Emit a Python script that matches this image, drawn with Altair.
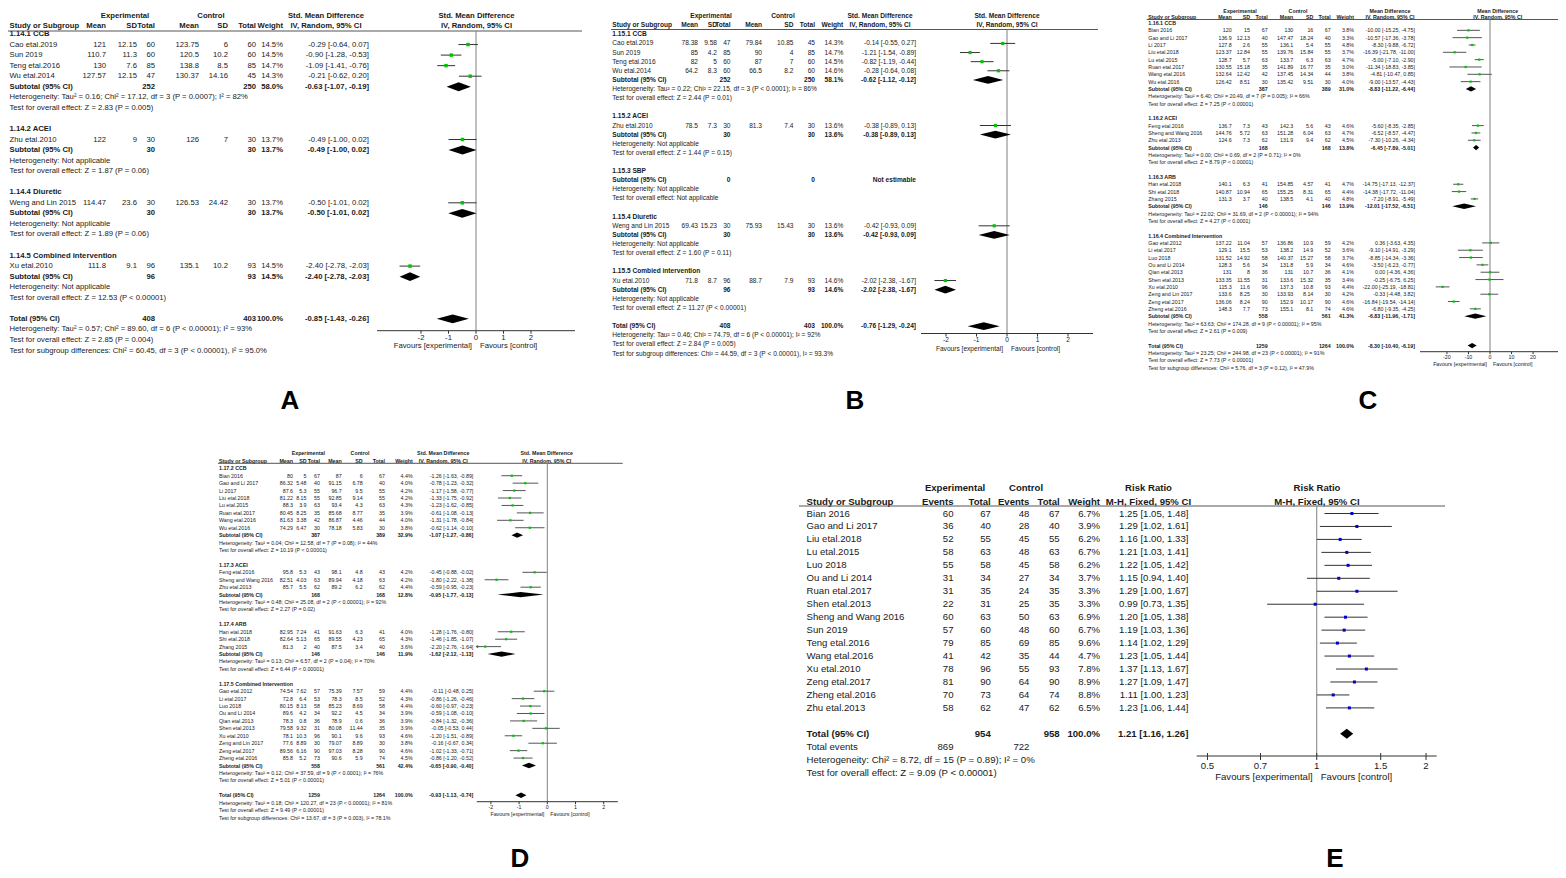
import altair as alt
import pandas as pd

FONT = "Liberation Sans"
OFF = 8
GREEN = "#00c400"
BLUE = "#0000cc"
TXT = "#1a1a1a"

# ---------------- Panel A (1.14) ----------------
A_heads = ["1.14.1 CCB", "1.14.2 ACEI", "1.14.4 Diuretic", "1.14.5 Combined intervention"]
A_grp = [0, 0, 0, 0, 1, 2, 3]
A_study = ["Cao etal.2019", "Sun 2019", "Teng etal.2016", "Wu etal.2014", "Zhu etal.2010",
           "Weng and Lin 2015", "Xu etal.2010"]
A_e_mean = [121, 110.7, 130, 127.57, 122, 114.47, 111.8]
A_e_sd = [12.15, 11.3, 7.6, 12.15, 9, 23.6, 9.1]
A_e_n = [60, 60, 85, 47, 30, 30, 96]
A_c_mean = [123.75, 120.5, 138.8, 130.37, 126, 126.53, 135.1]
A_c_sd = [6, 10.2, 8.5, 14.16, 7, 24.42, 10.2]
A_c_n = [60, 60, 85, 45, 30, 30, 93]
A_w = [14.5, 14.5, 14.7, 14.3, 13.7, 13.7, 14.5]
A_est = [-0.29, -0.90, -1.09, -0.21, -0.49, -0.50, -2.40]
A_lo = [-0.64, -1.28, -1.41, -0.62, -1.00, -1.01, -2.78]
A_hi = [0.07, -0.53, -0.76, 0.20, 0.02, 0.02, -2.03]
A_sub_en = [252, 30, 30, 96]
A_sub_cn = [250, 30, 30, 93]
A_sub_w = [58.0, 13.7, 13.7, 14.5]
A_sub_est = [-0.63, -0.49, -0.50, -2.40]
A_sub_lo = [-1.07, -1.00, -1.01, -2.78]
A_sub_hi = [-0.19, 0.02, 0.02, -2.03]
A_het = ["Heterogeneity: Tau² = 0.16; Chi² = 17.12, df = 3 (P = 0.0007); I² = 82%",
         "Heterogeneity: Not applicable", "Heterogeneity: Not applicable", "Heterogeneity: Not applicable"]
A_test = ["Z = 2.83 (P = 0.005)", "Z = 1.87 (P = 0.06)", "Z = 1.89 (P = 0.06)", "Z = 12.53 (P < 0.00001)"]
A_total = [408, 403, 100.0, -0.85, -1.43, -0.26]
A_foot = ["Heterogeneity: Tau² = 0.57; Chi² = 89.60, df = 6 (P < 0.00001); I² = 93%",
          "Test for overall effect: Z = 2.85 (P = 0.004)",
          "Test for subgroup differences: Chi² = 60.45, df = 3 (P < 0.00001), I² = 95.0%"]
A_ticks = [-2, -1, 0, 1, 2]
A_tick_labels = ["-2", "-1", "0", "1", "2"]

# ---------------- Panel B (1.15) ----------------
B_heads = ["1.15.1 CCB", "1.15.2 ACEI", "1.15.3 SBP", "1.15.4 Diuretic", "1.15.5 Combied intervention"]
B_grp = [0, 0, 0, 0, 1, 3, 4]
B_study = ["Cao etal.2019", "Sun 2019", "Teng etal.2016", "Wu etal.2014", "Zhu etal.2010",
           "Weng and Lin 2015", "Xu etal.2010"]
B_e_mean = [78.38, 85, 82, 64.2, 78.5, 69.43, 71.8]
B_e_sd = [9.58, 4.2, 5, 8.3, 7.3, 15.23, 8.7]
B_e_n = [47, 85, 60, 60, 30, 30, 96]
B_c_mean = [79.84, 90, 87, 66.5, 81.3, 75.93, 88.7]
B_c_sd = [10.85, 4, 7, 8.2, 7.4, 15.43, 7.9]
B_c_n = [45, 85, 60, 60, 30, 30, 93]
B_w = [14.3, 14.7, 14.5, 14.6, 13.6, 13.6, 14.6]
B_est = [-0.14, -1.21, -0.82, -0.28, -0.38, -0.42, -2.02]
B_lo = [-0.55, -1.54, -1.19, -0.64, -0.89, -0.93, -2.38]
B_hi = [0.27, -0.89, -0.44, 0.08, 0.13, 0.09, -1.67]
B_sub_en = [252, 30, 0, 30, 96]
B_sub_cn = [250, 30, 0, 30, 93]
B_sub_w = [58.1, 13.6, None, 13.6, 14.6]
B_sub_est = [-0.62, -0.38, None, -0.42, -2.02]
B_sub_lo = [-1.12, -0.89, None, -0.93, -2.38]
B_sub_hi = [-0.12, 0.13, None, 0.09, -1.67]
B_het = ["Heterogeneity: Tau² = 0.22; Chi² = 22.15, df = 3 (P < 0.0001); I² = 86%",
         "Heterogeneity: Not applicable", "Heterogeneity: Not applicable",
         "Heterogeneity: Not applicable", "Heterogeneity: Not applicable"]
B_test = ["Z = 2.44 (P = 0.01)", "Z = 1.44 (P = 0.15)", "Not applicable", "Z = 1.60 (P = 0.11)",
          "Z = 11.27 (P < 0.00001)"]
B_total = [408, 403, 100.0, -0.76, -1.29, -0.24]
B_foot = ["Heterogeneity: Tau² = 0.46; Chi² = 74.79, df = 6 (P < 0.00001); I² = 92%",
          "Test for overall effect: Z = 2.84 (P = 0.005)",
          "Test for subgroup differences: Chi² = 44.59, df = 3 (P < 0.00001), I² = 93.3%"]
B_ticks = [-2, -1, 0, 1, 2]
B_tick_labels = ["-2", "-1", "0", "1", "2"]

# ---------------- Panel C (1.16) ----------------
C_heads = ["1.16.1 CCB", "1.16.2 ACEI", "1.16.3 ARB", "1.16.4 Combined Intervention"]
C_grp = [0] * 8 + [1] * 3 + [2] * 3 + [3] * 10
C_study = ["Bian 2016", "Gao and Li 2017", "Li 2017", "Liu etal.2018", "Lu etal.2015", "Ruan etal.2017",
           "Wang etal.2016", "Wu etal.2016", "Feng etal.2016", "Sheng and Wang 2016", "Zhu etal.2013",
           "Han etal.2018", "Shi etal.2018", "Zhang 2015", "Gao etal.2012", "Li etal.2017", "Luo 2018",
           "Ou and Li 2014", "Qian etal.2013", "Shen etal.2013", "Xu etal.2010", "Zeng and Lin 2017",
           "Zeng etal.2017", "Zheng etal.2016"]
C_e_mean = [120, 136.9, 127.8, 123.37, 128.7, 130.55, 132.64, 126.42, 136.7, 144.76, 124.6,
            140.1, 140.87, 131.3, 137.22, 129.1, 131.52, 128.3, 131, 133.35, 115.3, 133.6, 136.06, 148.3]
C_e_sd = [15, 12.13, 2.6, 12.84, 5.7, 15.18, 12.42, 8.51, 7.3, 5.72, 7.3,
          6.3, 10.94, 3.7, 11.04, 15.5, 14.92, 5.6, 8, 11.55, 11.6, 8.25, 8.24, 7.7]
C_e_n = [67, 40, 55, 55, 63, 35, 42, 30, 43, 63, 62, 41, 65, 40, 57, 53, 58, 34, 36, 31, 96, 30, 90, 73]
C_c_mean = [130, 147.47, 136.1, 139.76, 133.7, 141.89, 137.45, 135.42, 142.3, 151.28, 131.9,
            154.85, 155.25, 138.5, 136.86, 138.2, 140.37, 131.8, 131, 133.6, 137.3, 133.93, 152.9, 155.1]
C_c_sd = [16, 18.24, 5.4, 15.84, 6.3, 16.77, 14.34, 9.51, 5.6, 6.04, 9.4,
          4.57, 8.31, 4.1, 10.9, 14.9, 15.27, 5.9, 10.7, 15.32, 10.8, 8.14, 10.17, 8.1]
C_c_n = [67, 40, 55, 55, 63, 35, 44, 30, 43, 63, 62, 41, 65, 40, 59, 52, 58, 34, 36, 35, 93, 30, 90, 74]
C_w = [3.8, 3.3, 4.8, 3.7, 4.7, 3.0, 3.8, 4.0, 4.6, 4.7, 4.5, 4.7, 4.4, 4.8,
       4.2, 3.6, 3.7, 4.6, 4.1, 3.4, 4.4, 4.2, 4.6, 4.6]
C_est = [-10.00, -10.57, -8.30, -16.39, -5.00, -11.34, -4.81, -9.00, -5.60, -6.52, -7.30,
         -14.75, -14.38, -7.20, 0.36, -9.10, -8.85, -3.50, 0.00, -0.25, -22.00, -0.33, -16.84, -6.80]
C_lo = [-15.25, -17.36, -9.88, -21.78, -7.10, -18.83, -10.47, -13.57, -8.35, -8.57, -10.26,
        -17.13, -17.72, -8.91, -3.63, -14.91, -14.34, -6.23, -4.36, -6.75, -25.19, -4.48, -19.54, -9.35]
C_hi = [-4.75, -3.78, -6.72, -11.00, -2.90, -3.85, 0.85, -4.43, -2.85, -4.47, -4.34,
        -12.37, -11.04, -5.49, 4.35, -3.29, -3.36, -0.77, 4.36, 6.25, -18.81, 3.82, -14.14, -4.25]
C_sub_en = [387, 168, 146, 558]
C_sub_cn = [389, 168, 146, 561]
C_sub_w = [31.0, 13.8, 13.9, 41.3]
C_sub_est = [-8.83, -6.45, -12.01, -6.83]
C_sub_lo = [-11.22, -7.89, -17.52, -11.96]
C_sub_hi = [-6.44, -5.01, -6.51, -1.71]
C_het = ["Heterogeneity: Tau² = 6.40; Chi² = 20.49, df = 7 (P = 0.005); I² = 66%",
         "Heterogeneity: Tau² = 0.00; Chi² = 0.69, df = 2 (P = 0.71); I² = 0%",
         "Heterogeneity: Tau² = 22.02; Chi² = 31.69, df = 2 (P < 0.00001); I² = 94%",
         "Heterogeneity: Tau² = 63.63; Chi² = 174.28, df = 9 (P < 0.00001); I² = 95%"]
C_test = ["Z = 7.25 (P < 0.00001)", "Z = 8.79 (P < 0.00001)", "Z = 4.27 (P < 0.0001)", "Z = 2.61 (P = 0.009)"]
C_total = [1259, 1264, 100.0, -8.30, -10.40, -6.19]
C_foot = ["Heterogeneity: Tau² = 23.25; Chi² = 244.98, df = 23 (P < 0.00001); I² = 91%",
          "Test for overall effect: Z = 7.73 (P < 0.00001)",
          "Test for subgroup differences: Chi² = 5.76, df = 3 (P = 0.12), I² = 47.9%"]
C_ticks = [-20, -10, 0, 10, 20]
C_tick_labels = ["-20", "-10", "0", "10", "20"]

# ---------------- Panel D (1.17) ----------------
D_heads = ["1.17.2 CCB", "1.17.3 ACEI", "1.17.4 ARB", "1.17.5 Combined Intervention"]
D_grp = [0] * 8 + [1] * 3 + [2] * 3 + [3] * 10
D_study = list(C_study)
D_e_mean = [80, 86.32, 87.6, 81.22, 88.3, 80.45, 81.63, 74.29, 95.8, 82.51, 85.7,
            82.95, 82.64, 81.3, 74.54, 72.8, 80.15, 89.6, 78.3, 79.58, 78.1, 77.6, 89.56, 85.8]
D_e_sd = [5, 5.48, 5.3, 8.15, 3.9, 8.25, 3.38, 6.47, 5.3, 4.03, 5.5,
          7.24, 5.13, 2, 7.62, 6.4, 8.13, 4.2, 0.8, 9.32, 10.3, 8.89, 6.16, 5.2]
D_e_n = [67, 40, 55, 55, 63, 35, 42, 30, 43, 63, 62, 41, 65, 40, 57, 53, 58, 34, 36, 31, 96, 30, 90, 73]
D_c_mean = [87, 91.15, 96.7, 92.85, 93.4, 85.68, 86.87, 78.18, 98.1, 89.94, 89.2,
            91.63, 89.55, 87.5, 75.39, 78.3, 85.23, 92.2, 78.9, 80.08, 90.1, 79.07, 97.03, 90.6]
D_c_sd = [6, 6.78, 9.5, 9.14, 4.3, 8.77, 4.46, 5.83, 4.8, 4.18, 6.2,
          6.3, 4.23, 3.4, 7.57, 8.5, 8.69, 4.5, 0.6, 11.44, 9.6, 8.89, 8.28, 5.9]
D_c_n = [67, 40, 55, 55, 63, 35, 44, 30, 43, 63, 62, 41, 65, 40, 59, 52, 58, 34, 36, 35, 93, 30, 90, 74]
D_w = [4.4, 4.0, 4.2, 4.2, 4.3, 3.9, 4.0, 3.8, 4.2, 4.2, 4.4, 4.0, 4.3, 3.6,
       4.4, 4.3, 4.4, 3.9, 3.9, 3.9, 4.6, 3.8, 4.6, 4.5]
D_est = [-1.26, -0.78, -1.17, -1.33, -1.23, -0.61, -1.31, -0.62, -0.45, -1.80, -0.59,
         -1.28, -1.46, -2.20, -0.11, -0.86, -0.60, -0.59, -0.84, -0.05, -1.20, -0.16, -1.02, -0.86]
D_lo = [-1.63, -1.23, -1.58, -1.75, -1.62, -1.08, -1.78, -1.14, -0.88, -2.22, -0.95,
        -1.76, -1.85, -2.76, -0.48, -1.26, -0.97, -1.08, -1.32, -0.53, -1.51, -0.67, -1.33, -1.20]
D_hi = [-0.89, -0.32, -0.77, -0.92, -0.85, -0.13, -0.84, -0.10, -0.02, -1.38, -0.23,
        -0.80, -1.07, -1.64, 0.25, -0.46, -0.23, -0.10, -0.36, 0.44, -0.89, 0.34, -0.71, -0.52]
D_sub_en = [387, 168, 146, 558]
D_sub_cn = [389, 168, 146, 561]
D_sub_w = [32.9, 12.8, 11.9, 42.4]
D_sub_est = [-1.07, -0.95, -1.62, -0.65]
D_sub_lo = [-1.27, -1.77, -2.12, -0.90]
D_sub_hi = [-0.86, -0.13, -1.13, -0.40]
D_het = ["Heterogeneity: Tau² = 0.04; Chi² = 12.58, df = 7 (P = 0.08); I² = 44%",
         "Heterogeneity: Tau² = 0.48; Chi² = 25.08, df = 2 (P < 0.00001); I² = 92%",
         "Heterogeneity: Tau² = 0.13; Chi² = 6.57, df = 2 (P = 0.04); I² = 70%",
         "Heterogeneity: Tau² = 0.12; Chi² = 37.59, df = 9 (P < 0.0001); I² = 76%"]
D_test = ["Z = 10.19 (P < 0.00001)", "Z = 2.27 (P = 0.02)", "Z = 6.44 (P < 0.00001)", "Z = 5.01 (P < 0.00001)"]
D_total = [1259, 1264, 100.0, -0.93, -1.13, -0.74]
D_foot = ["Heterogeneity: Tau² = 0.18; Chi² = 120.27, df = 23 (P < 0.00001); I² = 81%",
          "Test for overall effect: Z = 9.49 (P < 0.00001)",
          "Test for subgroup differences: Chi² = 13.67, df = 3 (P = 0.003), I² = 78.1%"]
D_ticks = [-2, -1, 0, 1, 2]
D_tick_labels = ["-2", "-1", "0", "1", "2"]

# ---------------- Panel E (risk ratio) ----------------
E_study = ["Bian 2016", "Gao and Li 2017", "Liu etal.2018", "Lu etal.2015", "Luo 2018", "Ou and Li 2014",
           "Ruan etal.2017", "Shen etal.2013", "Sheng and Wang 2016", "Sun 2019", "Teng etal.2016",
           "Wang etal.2016", "Xu etal.2010", "Zeng etal.2017", "Zheng etal.2016", "Zhu etal.2013"]
E_e_ev = [60, 36, 52, 58, 55, 31, 31, 22, 60, 57, 79, 41, 78, 81, 70, 58]
E_e_n = [67, 40, 55, 63, 58, 34, 35, 31, 63, 60, 85, 42, 96, 90, 73, 62]
E_c_ev = [48, 28, 45, 48, 45, 27, 24, 25, 50, 48, 69, 35, 55, 64, 64, 47]
E_c_n = [67, 40, 55, 63, 58, 34, 35, 35, 63, 60, 85, 44, 93, 90, 74, 62]
E_w = [6.7, 3.9, 6.2, 6.7, 6.2, 3.7, 3.3, 3.3, 6.9, 6.7, 9.6, 4.7, 7.8, 8.9, 8.8, 6.5]
E_est = [1.25, 1.29, 1.16, 1.21, 1.22, 1.15, 1.29, 0.99, 1.20, 1.19, 1.14, 1.23, 1.37, 1.27, 1.11, 1.23]
E_lo = [1.05, 1.02, 1.00, 1.03, 1.05, 0.94, 1.00, 0.73, 1.05, 1.03, 1.02, 1.05, 1.13, 1.09, 1.00, 1.06]
E_hi = [1.48, 1.61, 1.33, 1.41, 1.42, 1.40, 1.67, 1.35, 1.38, 1.36, 1.29, 1.44, 1.67, 1.47, 1.23, 1.44]
E_total = [954, 958, 100.0, 1.21, 1.16, 1.26]
E_events = [869, 722]
E_foot = ["Heterogeneity: Chi² = 8.72, df = 15 (P = 0.89); I² = 0%",
          "Test for overall effect: Z = 9.09 (P < 0.00001)"]
E_ticks = [0.5, 0.7, 1, 1.5, 2]
E_tick_labels = ["0.5", "0.7", "1", "1.5", "2"]

PANEL_LETTERS = ["A", "B", "C", "D", "E"]


# ---------------- helpers ----------------
def X(px):
    return px - OFF


def Y(py):
    return py - OFF


def fmt(v):
    return "{:g}".format(v)


def ci(e, lo, hi):
    return f"{e:.2f} [{lo:.2f}, {hi:.2f}]"


def subgroup_rows(heads, grp, study, em, esd, en, cm, csd, cn, w, est, lo, hi,
                  sen, scn, sw, sest, slo, shi, het, test, total, foot):
    rows = []
    r = 0
    for g, h in enumerate(heads):
        rows.append(dict(r=r, kind="head", cells={"study": h}))
        r += 1
        for i in range(len(study)):
            if grp[i] != g:
                continue
            rows.append(dict(r=r, kind="study",
                             cells={"study": study[i], "eMean": fmt(em[i]), "eSD": fmt(esd[i]),
                                    "eTot": fmt(en[i]), "cMean": fmt(cm[i]), "cSD": fmt(csd[i]),
                                    "cTot": fmt(cn[i]), "wt": f"{w[i]:.1f}%", "ci": ci(est[i], lo[i], hi[i])},
                             est=est[i], lo=lo[i], hi=hi[i]))
            r += 1
        cells = {"study": "Subtotal (95% CI)", "eTot": fmt(sen[g]), "cTot": fmt(scn[g])}
        if sest[g] is None:
            cells["ci"] = "Not estimable"
            rows.append(dict(r=r, kind="sub", cells=cells))
        else:
            cells["wt"] = f"{sw[g]:.1f}%"
            cells["ci"] = ci(sest[g], slo[g], shi[g])
            rows.append(dict(r=r, kind="sub", cells=cells, est=sest[g], lo=slo[g], hi=shi[g]))
        r += 1
        rows.append(dict(r=r, kind="note", cells={"study": het[g]}))
        r += 1
        rows.append(dict(r=r, kind="note", cells={"study": "Test for overall effect: " + test[g]}))
        r += 2
    rows.append(dict(r=r, kind="total",
                     cells={"study": "Total (95% CI)", "eTot": fmt(total[0]), "cTot": fmt(total[1]),
                            "wt": f"{total[2]:.1f}%", "ci": ci(*total[3:])},
                     est=total[3], lo=total[4], hi=total[5]))
    r += 1
    for f in foot:
        rows.append(dict(r=r, kind="note", cells={"study": f}))
        r += 1
    return rows


def panel_layers(rows, L, hdr1, hdr2, ticks, tick_labels):
    keys = sorted(L["cols"], key=lambda k: L["cols"][k][0])
    idx = {k: i for i, k in enumerate(keys)}
    cs = alt.Scale(domain=list(range(len(keys))), range=[X(L["cols"][k][0]) for k in keys],
                   nice=False, zero=False)
    ys = alt.Scale(domain=[0, 1], range=[Y(L["row0"]), Y(L["row0"] + L["pitch"])], nice=False, zero=False)
    if L["ftype"] == "log":
        fsc = alt.Scale(type="log", domain=list(L["fdom"]),
                        range=[X(L["frange"][0]), X(L["frange"][1])], nice=False)
    else:
        fsc = alt.Scale(domain=list(L["fdom"]), range=[X(L["frange"][0]), X(L["frange"][1])],
                        nice=False, zero=False)

    def prow(py):
        return (py - L["row0"]) / L["pitch"]

    fs = L["fs"]
    recs = []

    def add(r, key, t, bold):
        recs.append(dict(r=r, c=idx[key], t=t, al=L["cols"][key][1], b=bold))

    for k, t in hdr1.items():
        add(prow(L["h1"]), k, t, True)
    for k, t in hdr2.items():
        add(prow(L["h2"]), k, t, True)
    for row in rows:
        bold = row["kind"] in ("head", "sub", "total")
        for k, t in row["cells"].items():
            add(row["r"], k, t, bold)
    df = pd.DataFrame(recs)
    layers = []
    for al in ("left", "center", "right"):
        for b in (False, True):
            sub = df[(df["al"] == al) & (df["b"] == b)]
            if len(sub) == 0:
                continue
            layers.append(
                alt.Chart(sub).mark_text(align=al, baseline="middle", font=FONT, fontSize=fs,
                                         fontWeight="bold" if b else "normal", color=TXT)
                .encode(x=alt.X("c:Q", scale=cs, axis=None), y=alt.Y("r:Q", scale=ys, axis=None), text="t:N"))

    # header underline
    hl = pd.DataFrame({"r": [prow(L["hline"])]})
    layers.append(alt.Chart(hl).mark_rule(color="#555", strokeWidth=1)
                  .encode(x=alt.value(X(L["hline_x"][0])), x2=alt.value(X(L["hline_x"][1])),
                          y=alt.Y("r:Q", scale=ys, axis=None)))

    d0, d1 = L["fdom"]
    # null line
    nl = pd.DataFrame({"x": [L["null"]], "r": [prow(L["hline"])], "r2": [prow(L["axis_y"])]})
    layers.append(alt.Chart(nl).mark_rule(color="#808080", strokeWidth=1)
                  .encode(x=alt.X("x:Q", scale=fsc, axis=None), y=alt.Y("r:Q", scale=ys, axis=None), y2="r2:Q"))

    # study CIs and squares
    st = pd.DataFrame([dict(r=row["r"], est=row["est"], lo=max(row["lo"], d0), hi=min(row["hi"], d1),
                            clipped=bool(row["lo"] < d0))
                       for row in rows if row["kind"] == "study"])
    layers.append(alt.Chart(st).mark_rule(color=L["cicol"], strokeWidth=1)
                  .encode(x=alt.X("lo:Q", scale=fsc, axis=None), x2="hi:Q",
                          y=alt.Y("r:Q", scale=ys, axis=None)))
    layers.append(alt.Chart(st).mark_square(size=L["sq"], color=L["sqcol"], opacity=1)
                  .encode(x=alt.X("est:Q", scale=fsc, axis=None), y=alt.Y("r:Q", scale=ys, axis=None)))
    ar = st[st["clipped"].astype(bool)]
    if len(ar):
        layers.append(alt.Chart(ar).mark_point(shape="triangle-left", filled=True, size=10,
                                               color=L["cicol"], opacity=1)
                      .encode(x=alt.X("lo:Q", scale=fsc, axis=None), y=alt.Y("r:Q", scale=ys, axis=None)))

    # diamonds
    dia = []
    h = L["dh"]
    j = 0
    for row in rows:
        if row["kind"] in ("sub", "total") and "est" in row:
            dia += [dict(id=j, x=row["lo"], y=row["r"], y2=row["r"]),
                    dict(id=j, x=row["est"], y=row["r"] - h, y2=row["r"] + h),
                    dict(id=j, x=row["hi"], y=row["r"], y2=row["r"])]
            j += 1
    dd = pd.DataFrame(dia)
    layers.append(alt.Chart(dd).mark_area(color="black", opacity=1, interpolate="linear")
                  .encode(x=alt.X("x:Q", scale=fsc, axis=None), y=alt.Y("y:Q", scale=ys, axis=None),
                          y2="y2:Q", detail="id:N"))

    # axis
    ay = prow(L["axis_y"])
    ax = pd.DataFrame({"x": [d0], "x2": [d1], "r": [ay]})
    layers.append(alt.Chart(ax).mark_rule(color="#333", strokeWidth=1)
                  .encode(x=alt.X("x:Q", scale=fsc, axis=None), x2="x2:Q", y=alt.Y("r:Q", scale=ys, axis=None)))
    tk = pd.DataFrame({"x": ticks, "r": [ay - L["tickup"] / L["pitch"]] * len(ticks),
                       "r2": [ay + L["tick"] / L["pitch"]] * len(ticks),
                       "lab": tick_labels, "rl": [prow(L["ticklab_y"])] * len(ticks)})
    layers.append(alt.Chart(tk).mark_rule(color="#333", strokeWidth=1)
                  .encode(x=alt.X("x:Q", scale=fsc, axis=None), y=alt.Y("r:Q", scale=ys, axis=None), y2="r2:Q"))
    layers.append(alt.Chart(tk).mark_text(baseline="middle", align="center", font=FONT, fontSize=fs, color=TXT)
                  .encode(x=alt.X("x:Q", scale=fsc, axis=None), y=alt.Y("rl:Q", scale=ys, axis=None), text="lab:N"))
    fv = pd.DataFrame({"x": [L["null"]], "r": [prow(L["fav_y"])],
                       "a": ["Favours [experimental]"], "b": ["Favours [control]"]})
    layers.append(alt.Chart(fv).mark_text(baseline="middle", align="right", font=FONT, fontSize=fs,
                                          color=TXT, dx=-L["favgap"])
                  .encode(x=alt.X("x:Q", scale=fsc, axis=None), y=alt.Y("r:Q", scale=ys, axis=None), text="a:N"))
    layers.append(alt.Chart(fv).mark_text(baseline="middle", align="left", font=FONT, fontSize=fs,
                                          color=TXT, dx=L["favgap"])
                  .encode(x=alt.X("x:Q", scale=fsc, axis=None), y=alt.Y("r:Q", scale=ys, axis=None), text="b:N"))
    return layers


def smd_headers(title, method):
    h1 = {"expC": "Experimental", "ctlC": "Control", "ciC": title, "fC": title}
    h2 = {"study": "Study or Subgroup", "eMean": "Mean", "eSD": "SD", "eTot": "Total",
          "cMean": "Mean", "cSD": "SD", "cTot": "Total", "wt": "Weight", "ciC": method, "fC": method}
    return h1, h2


# ---------------- layouts (pixel positions in the page) ----------------
LA = dict(row0=34, pitch=10.55, fs=7.7, h1=15.5, h2=25.5, hline=31, hline_x=(8, 582),
          cols={"study": (9.5, "left"), "eMean": (106, "right"), "expC": (125, "center"),
                "eSD": (137, "right"), "eTot": (155, "right"), "cMean": (199, "right"),
                "ctlC": (211, "center"), "cSD": (228, "right"), "cTot": (256, "right"),
                "wt": (283, "right"), "ciC": (326, "center"), "ci": (369, "right"), "fC": (476.5, "center")},
          ftype="linear", fdom=(-3.6, 3.6), frange=(377, 575), null=0, axis_y=330.7, tick=3, tickup=0,
          ticklab_y=337.5, fav_y=346, favgap=4, sq=12, sqcol=GREEN, cicol="#333", dh=0.42)
LB = dict(row0=34.3, pitch=9.12, fs=6.6, h1=16, h2=25, hline=29.5, hline_x=(611, 1098),
          cols={"study": (612.3, "left"), "eMean": (698, "right"), "expC": (711, "center"),
                "eSD": (717, "right"), "eTot": (730.5, "right"), "cMean": (762, "right"),
                "ctlC": (783, "center"), "cSD": (793.5, "right"), "cTot": (815, "right"),
                "wt": (843.3, "right"), "ciC": (880, "center"), "ci": (916, "right"), "fC": (1007, "center")},
          ftype="linear", fdom=(-2.82, 2.82), frange=(921, 1093), null=0, axis_y=333.5, tick=3, tickup=0,
          ticklab_y=340, fav_y=349, favgap=4, sq=10, sqcol=GREEN, cicol="#333", dh=0.42)
LC = dict(row0=23, pitch=7.33, fs=5.3, h1=11, h2=17, hline=19.5, hline_x=(1146.7, 1565),
          cols={"study": (1148.3, "left"), "eMean": (1231.7, "right"), "expC": (1240, "center"),
                "eSD": (1250, "right"), "eTot": (1267.7, "right"), "cMean": (1293.3, "right"),
                "ctlC": (1298, "center"), "cSD": (1313.3, "right"), "cTot": (1330.7, "right"),
                "wt": (1354, "right"), "ciC": (1390, "center"), "ci": (1415, "right"), "fC": (1497.7, "center")},
          ftype="linear", fdom=(-32.5, 32.5), frange=(1420, 1560), null=0, axis_y=351.7, tick=2.5, tickup=0,
          ticklab_y=357, fav_y=363.5, favgap=3, sq=5, sqcol=GREEN, cicol="#555", dh=0.36)
LD = dict(row0=468.3, pitch=7.43, fs=5.3, h1=453.3, h2=460.7, hline=463.3, hline_x=(218, 622.7),
          cols={"study": (219, "left"), "eMean": (293, "right"), "eSD": (306.5, "right"),
                "expC": (308.3, "center"), "eTot": (320, "right"), "cMean": (341.7, "right"),
                "ctlC": (360, "center"), "cSD": (362.7, "right"), "cTot": (385, "right"),
                "wt": (412.7, "right"), "ciC": (443.3, "center"), "ci": (473.3, "right"), "fC": (546.7, "center")},
          ftype="linear", fdom=(-2.5, 2.5), frange=(476.8, 617.8), null=0, axis_y=801.7, tick=2.5, tickup=0,
          ticklab_y=807, fav_y=814, favgap=3, sq=5, sqcol=GREEN, cicol="#555", dh=0.36)
LE = dict(row0=513.5, pitch=12.96, fs=9.6, h1=488.3, h2=501.7, hline=506, hline_x=(799, 1445),
          cols={"study": (806.6, "left"), "eEv": (953.5, "right"), "expC": (955, "center"),
                "eTot": (990.8, "right"), "ctlC": (1026, "center"), "cEv": (1029.4, "right"),
                "cTot": (1059.7, "right"), "wt": (1100, "right"), "ciC": (1148.5, "center"),
                "ci": (1188.4, "right"), "fC": (1317, "center")},
          ftype="log", fdom=(0.467, 2.14), frange=(1196.7, 1436.7), null=1, axis_y=756, tick=4, tickup=3,
          ticklab_y=765.5, fav_y=777, favgap=4, sq=9, sqcol=BLUE, cicol="#333", dh=0.39)

# ---------------- build ----------------
layers = []

rowsA = subgroup_rows(A_heads, A_grp, A_study, A_e_mean, A_e_sd, A_e_n, A_c_mean, A_c_sd, A_c_n, A_w,
                      A_est, A_lo, A_hi, A_sub_en, A_sub_cn, A_sub_w, A_sub_est, A_sub_lo, A_sub_hi,
                      A_het, A_test, A_total, A_foot)
h1, h2 = smd_headers("Std. Mean Difference", "IV, Random, 95% CI")
layers += panel_layers(rowsA, LA, h1, h2, A_ticks, A_tick_labels)

rowsB = subgroup_rows(B_heads, B_grp, B_study, B_e_mean, B_e_sd, B_e_n, B_c_mean, B_c_sd, B_c_n, B_w,
                      B_est, B_lo, B_hi, B_sub_en, B_sub_cn, B_sub_w, B_sub_est, B_sub_lo, B_sub_hi,
                      B_het, B_test, B_total, B_foot)
layers += panel_layers(rowsB, LB, h1, h2, B_ticks, B_tick_labels)

rowsC = subgroup_rows(C_heads, C_grp, C_study, C_e_mean, C_e_sd, C_e_n, C_c_mean, C_c_sd, C_c_n, C_w,
                      C_est, C_lo, C_hi, C_sub_en, C_sub_cn, C_sub_w, C_sub_est, C_sub_lo, C_sub_hi,
                      C_het, C_test, C_total, C_foot)
h1c, h2c = smd_headers("Mean Difference", "IV, Random, 95% CI")
layers += panel_layers(rowsC, LC, h1c, h2c, C_ticks, C_tick_labels)

rowsD = subgroup_rows(D_heads, D_grp, D_study, D_e_mean, D_e_sd, D_e_n, D_c_mean, D_c_sd, D_c_n, D_w,
                      D_est, D_lo, D_hi, D_sub_en, D_sub_cn, D_sub_w, D_sub_est, D_sub_lo, D_sub_hi,
                      D_het, D_test, D_total, D_foot)
layers += panel_layers(rowsD, LD, h1, h2, D_ticks, D_tick_labels)

rowsE = []
for i in range(len(E_study)):
    rowsE.append(dict(r=i, kind="study",
                      cells={"study": E_study[i], "eEv": fmt(E_e_ev[i]), "eTot": fmt(E_e_n[i]),
                             "cEv": fmt(E_c_ev[i]), "cTot": fmt(E_c_n[i]), "wt": f"{E_w[i]:.1f}%",
                             "ci": ci(E_est[i], E_lo[i], E_hi[i])},
                      est=E_est[i], lo=E_lo[i], hi=E_hi[i]))
nE = len(E_study)
rowsE.append(dict(r=nE + 1, kind="total",
                  cells={"study": "Total (95% CI)", "eTot": fmt(E_total[0]), "cTot": fmt(E_total[1]),
                         "wt": f"{E_total[2]:.1f}%", "ci": ci(*E_total[3:])},
                  est=E_total[3], lo=E_total[4], hi=E_total[5]))
rowsE.append(dict(r=nE + 2, kind="note", cells={"study": "Total events", "eEv": fmt(E_events[0]),
                                                 "cEv": fmt(E_events[1])}))
for k, f in enumerate(E_foot):
    rowsE.append(dict(r=nE + 3 + k, kind="note", cells={"study": f}))
h1e = {"expC": "Experimental", "ctlC": "Control", "ciC": "Risk Ratio", "fC": "Risk Ratio"}
h2e = {"study": "Study or Subgroup", "eEv": "Events", "eTot": "Total", "cEv": "Events", "cTot": "Total",
       "wt": "Weight", "ciC": "M-H, Fixed, 95% CI", "fC": "M-H, Fixed, 95% CI"}
layers += panel_layers(rowsE, LE, h1e, h2e, E_ticks, E_tick_labels)

# panel letters
LETTER_POS = [(290, 401), (855, 401), (1368, 401), (520, 859), (1335, 859)]
for lab, (px, py) in zip(PANEL_LETTERS, LETTER_POS):
    layers.append(alt.Chart(pd.DataFrame({"t": [lab]})).mark_text(
        font=FONT, fontSize=26, fontWeight="bold", align="center", baseline="middle", color="black")
        .encode(x=alt.value(X(px)), y=alt.value(Y(py)), text="t:N"))

chart = (alt.layer(*layers)
         .resolve_scale(x="independent", y="independent")
         .properties(width=1550, height=862, autosize=alt.AutoSizeParams(type="none"),
                     padding={"left": 0, "right": 0, "top": 0, "bottom": 0}, background="white")
         .configure_view(stroke=None))

chart.save("out.html", embed_options={"renderer": "svg", "actions": False})
